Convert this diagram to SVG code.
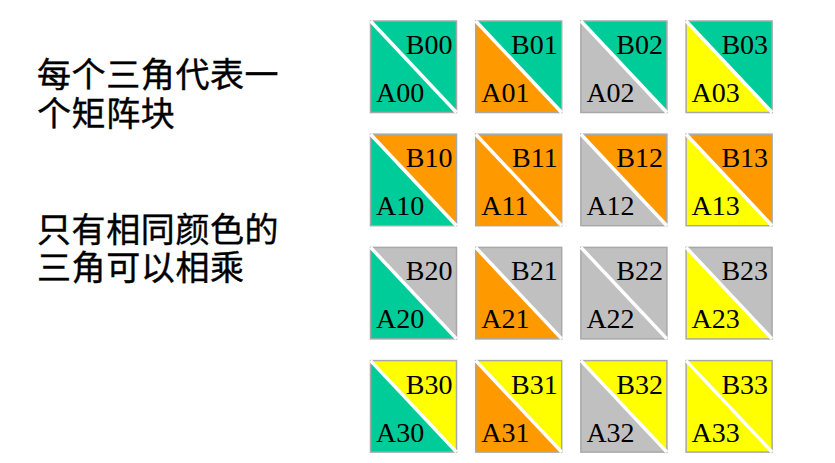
<svg xmlns="http://www.w3.org/2000/svg" width="835" height="463" viewBox="0 0 835 463">
<defs>
<style>
.g{fill:#00CC99}.o{fill:#FF9900}.s{fill:#C0C0C0}.y{fill:#FFFF00}
.bd{fill:none;stroke:#A8A8A8;stroke-width:1.5}
.dg{stroke:#FFFFFF;stroke-width:3.5}
.lb{font-family:"Liberation Serif","Times New Roman",serif;font-size:28px;fill:#000}
.b{text-anchor:end}
.cn{font-family:"Noto Sans CJK SC","Noto Sans",sans-serif;font-size:34px;font-weight:400;fill:#000;letter-spacing:0.6px;stroke:#000;stroke-width:0.4px}
</style>
<polygon id="tb" points="0,0 86,0 86,91.5"/>
<polygon id="ta" points="0,0 0,91.5 86,91.5"/>
</defs>
<rect width="835" height="463" fill="#FFFFFF"/>
<g id="text">
<text class="cn" x="37" y="87">每个三角代表一<tspan x="37" y="126">个矩阵块</tspan></text>
<text class="cn" x="37" y="242">只有相同颜色的<tspan x="37" y="280">三角可以相乘</tspan></text>
</g>
<g id="connectors"></g>
<!-- row 0 -->
<g id="t00" transform="translate(370.5,21)"><use href="#tb" class="g"/><use href="#ta" class="g"/><rect class="bd" width="86" height="91.5"/><line class="dg" x1="0" y1="0" x2="86" y2="91.5"/><text class="lb b" x="82" y="33">B00</text><text class="lb" x="5.5" y="81">A00</text></g>
<g id="t01" transform="translate(475.7,21)"><use href="#tb" class="g"/><use href="#ta" class="o"/><rect class="bd" width="86" height="91.5"/><line class="dg" x1="0" y1="0" x2="86" y2="91.5"/><text class="lb b" x="82" y="33">B01</text><text class="lb" x="5.5" y="81">A01</text></g>
<g id="t02" transform="translate(580.9,21)"><use href="#tb" class="g"/><use href="#ta" class="s"/><rect class="bd" width="86" height="91.5"/><line class="dg" x1="0" y1="0" x2="86" y2="91.5"/><text class="lb b" x="82" y="33">B02</text><text class="lb" x="5.5" y="81">A02</text></g>
<g id="t03" transform="translate(686.1,21)"><use href="#tb" class="g"/><use href="#ta" class="y"/><rect class="bd" width="86" height="91.5"/><line class="dg" x1="0" y1="0" x2="86" y2="91.5"/><text class="lb b" x="82" y="33">B03</text><text class="lb" x="5.5" y="81">A03</text></g>
<!-- row 1 -->
<g id="t10" transform="translate(370.5,134.2)"><use href="#tb" class="o"/><use href="#ta" class="g"/><rect class="bd" width="86" height="91.5"/><line class="dg" x1="0" y1="0" x2="86" y2="91.5"/><text class="lb b" x="82" y="33">B10</text><text class="lb" x="5.5" y="81">A10</text></g>
<g id="t11" transform="translate(475.7,134.2)"><use href="#tb" class="o"/><use href="#ta" class="o"/><rect class="bd" width="86" height="91.5"/><line class="dg" x1="0" y1="0" x2="86" y2="91.5"/><text class="lb b" x="82" y="33">B11</text><text class="lb" x="5.5" y="81">A11</text></g>
<g id="t12" transform="translate(580.9,134.2)"><use href="#tb" class="o"/><use href="#ta" class="s"/><rect class="bd" width="86" height="91.5"/><line class="dg" x1="0" y1="0" x2="86" y2="91.5"/><text class="lb b" x="82" y="33">B12</text><text class="lb" x="5.5" y="81">A12</text></g>
<g id="t13" transform="translate(686.1,134.2)"><use href="#tb" class="o"/><use href="#ta" class="y"/><rect class="bd" width="86" height="91.5"/><line class="dg" x1="0" y1="0" x2="86" y2="91.5"/><text class="lb b" x="82" y="33">B13</text><text class="lb" x="5.5" y="81">A13</text></g>
<!-- row 2 -->
<g id="t20" transform="translate(370.5,247.4)"><use href="#tb" class="s"/><use href="#ta" class="g"/><rect class="bd" width="86" height="91.5"/><line class="dg" x1="0" y1="0" x2="86" y2="91.5"/><text class="lb b" x="82" y="33">B20</text><text class="lb" x="5.5" y="81">A20</text></g>
<g id="t21" transform="translate(475.7,247.4)"><use href="#tb" class="s"/><use href="#ta" class="o"/><rect class="bd" width="86" height="91.5"/><line class="dg" x1="0" y1="0" x2="86" y2="91.5"/><text class="lb b" x="82" y="33">B21</text><text class="lb" x="5.5" y="81">A21</text></g>
<g id="t22" transform="translate(580.9,247.4)"><use href="#tb" class="s"/><use href="#ta" class="s"/><rect class="bd" width="86" height="91.5"/><line class="dg" x1="0" y1="0" x2="86" y2="91.5"/><text class="lb b" x="82" y="33">B22</text><text class="lb" x="5.5" y="81">A22</text></g>
<g id="t23" transform="translate(686.1,247.4)"><use href="#tb" class="s"/><use href="#ta" class="y"/><rect class="bd" width="86" height="91.5"/><line class="dg" x1="0" y1="0" x2="86" y2="91.5"/><text class="lb b" x="82" y="33">B23</text><text class="lb" x="5.5" y="81">A23</text></g>
<!-- row 3 -->
<g id="t30" transform="translate(370.5,360.6)"><use href="#tb" class="y"/><use href="#ta" class="g"/><rect class="bd" width="86" height="91.5"/><line class="dg" x1="0" y1="0" x2="86" y2="91.5"/><text class="lb b" x="82" y="33">B30</text><text class="lb" x="5.5" y="81">A30</text></g>
<g id="t31" transform="translate(475.7,360.6)"><use href="#tb" class="y"/><use href="#ta" class="o"/><rect class="bd" width="86" height="91.5"/><line class="dg" x1="0" y1="0" x2="86" y2="91.5"/><text class="lb b" x="82" y="33">B31</text><text class="lb" x="5.5" y="81">A31</text></g>
<g id="t32" transform="translate(580.9,360.6)"><use href="#tb" class="y"/><use href="#ta" class="s"/><rect class="bd" width="86" height="91.5"/><line class="dg" x1="0" y1="0" x2="86" y2="91.5"/><text class="lb b" x="82" y="33">B32</text><text class="lb" x="5.5" y="81">A32</text></g>
<g id="t33" transform="translate(686.1,360.6)"><use href="#tb" class="y"/><use href="#ta" class="y"/><rect class="bd" width="86" height="91.5"/><line class="dg" x1="0" y1="0" x2="86" y2="91.5"/><text class="lb b" x="82" y="33">B33</text><text class="lb" x="5.5" y="81">A33</text></g>
</svg>
